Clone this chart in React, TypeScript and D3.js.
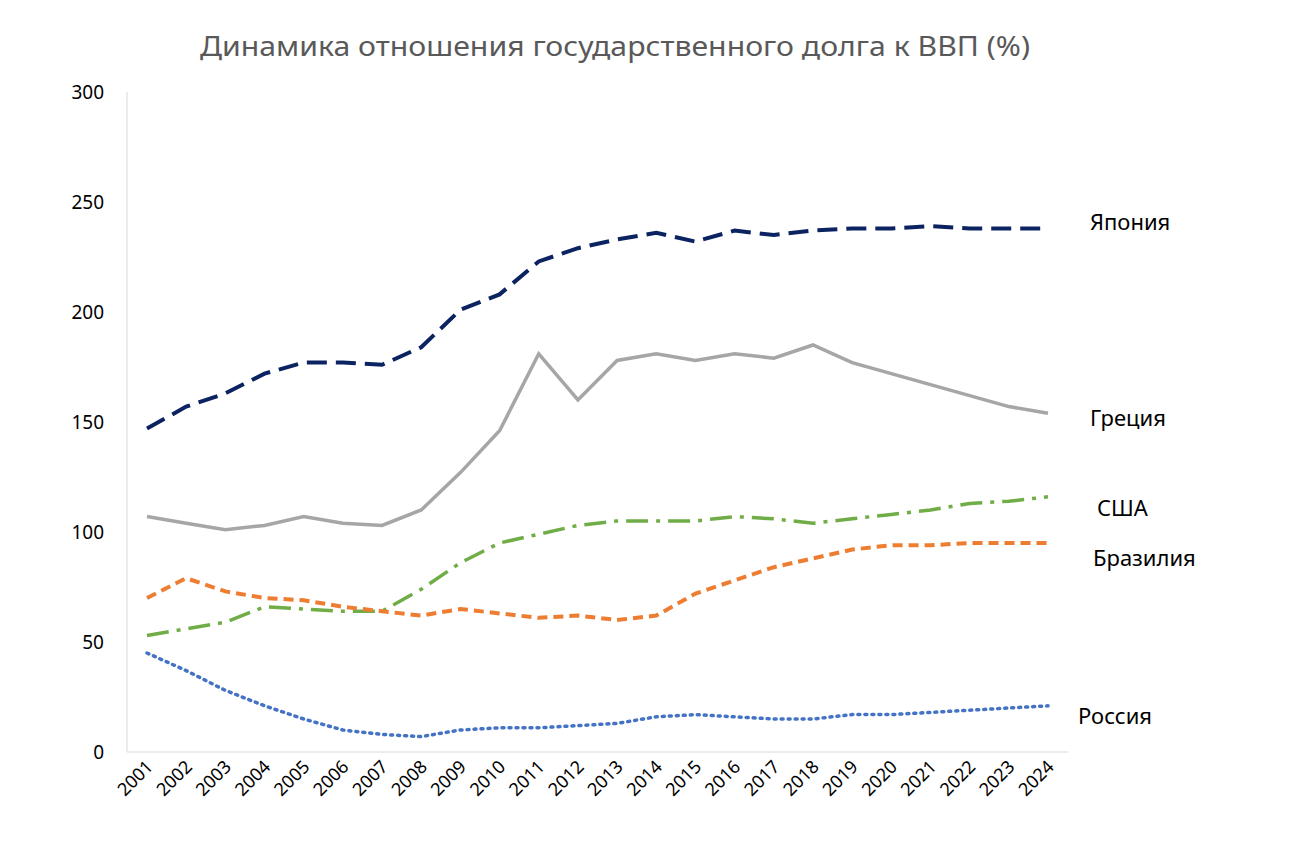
import React from "react";
import * as d3 from "d3";

const years = d3.range(2001, 2025);
const japan = [147, 157, 163, 172, 177, 177, 176, 184, 201, 208, 223, 229, 233, 236, 232, 237, 235, 237, 238, 238, 239, 238, 238, 238];
const greece = [107, 104, 101, 103, 107, 104, 103, 110, 127, 146, 181, 160, 178, 181, 178, 181, 179, 185, 177, 172, 167, 162, 157, 154];
const usa = [53, 56, 59, 66, 65, 64, 64, 74, 86, 95, 99, 103, 105, 105, 105, 107, 106, 104, 106, 108, 110, 113, 114, 116];
const brazil = [70, 79, 73, 70, 69, 66, 64, 62, 65, 63, 61, 62, 60, 62, 72, 78, 84, 88, 92, 94, 94, 95, 95, 95];
const russia = [45, 37, 28, 21, 15, 10, 8, 7, 10, 11, 11, 12, 13, 16, 17, 16, 15, 15, 17, 17, 18, 19, 20, 21];
const yTicks = [0, 50, 100, 150, 200, 250, 300];

const series = [
  { name: "Япония", values: japan, color: "#0b2360", dash: "20 9", width: 4, lx: 1090, ly: 222 },
  { name: "Греция", values: greece, color: "#a6a6a6", dash: "", width: 3.5, lx: 1090, ly: 418 },
  { name: "США", values: usa, color: "#70ad47", dash: "22 8 4 8", width: 3.5, lx: 1097, ly: 508 },
  { name: "Бразилия", values: brazil, color: "#ed7d31", dash: "10 6", width: 4, lx: 1093, ly: 558 },
  { name: "Россия", values: russia, color: "#4472c4", dash: "2 5", width: 3.5, lx: 1078, ly: 716 },
];

export default function App() {
  const x = d3.scalePoint<number>().domain(years).range([147, 1048]);
  const y = d3.scaleLinear().domain([0, 300]).range([752, 92]);
  const line = d3.line<number>().x((_, i) => x(years[i])!).y((d) => y(d));
  const font = "'Noto Sans', 'Open Sans', sans-serif";
  return (
    <svg width={1306} height={850} style={{ position: "absolute", left: 0, top: 0, background: "#fff" }} fontFamily={font}>
      <text x={615} y={56} textAnchor="middle" fontSize={28} fill="#595959" textLength={830} lengthAdjust="spacingAndGlyphs">
        Динамика отношения государственного долга к ВВП (%)
      </text>
      <line x1={127} x2={127} y1={92} y2={752} stroke="#d9d9d9" />
      <line x1={127} x2={1068} y1={752} y2={752} stroke="#d9d9d9" />
      {yTicks.map((t) => (
        <text key={t} x={104} y={y(t) + 7} textAnchor="end" fontSize={19} fill="#000">{t}</text>
      ))}
      {years.map((yr) => (
        <text key={yr} transform={`translate(${x(yr)! + 7},${768}) rotate(-45)`} textAnchor="end" fontSize={18} fill="#000">{yr}</text>
      ))}
      {series.map((s) => (
        <g key={s.name}>
          <path d={line(s.values)!} fill="none" stroke={s.color} strokeWidth={s.width} strokeDasharray={s.dash || undefined} strokeLinecap={s.dash === "2 5" ? "round" : "butt"} />
          <text x={s.lx} y={s.ly + 8} fontSize={22} fill="#000">{s.name}</text>
        </g>
      ))}
    </svg>
  );
}
